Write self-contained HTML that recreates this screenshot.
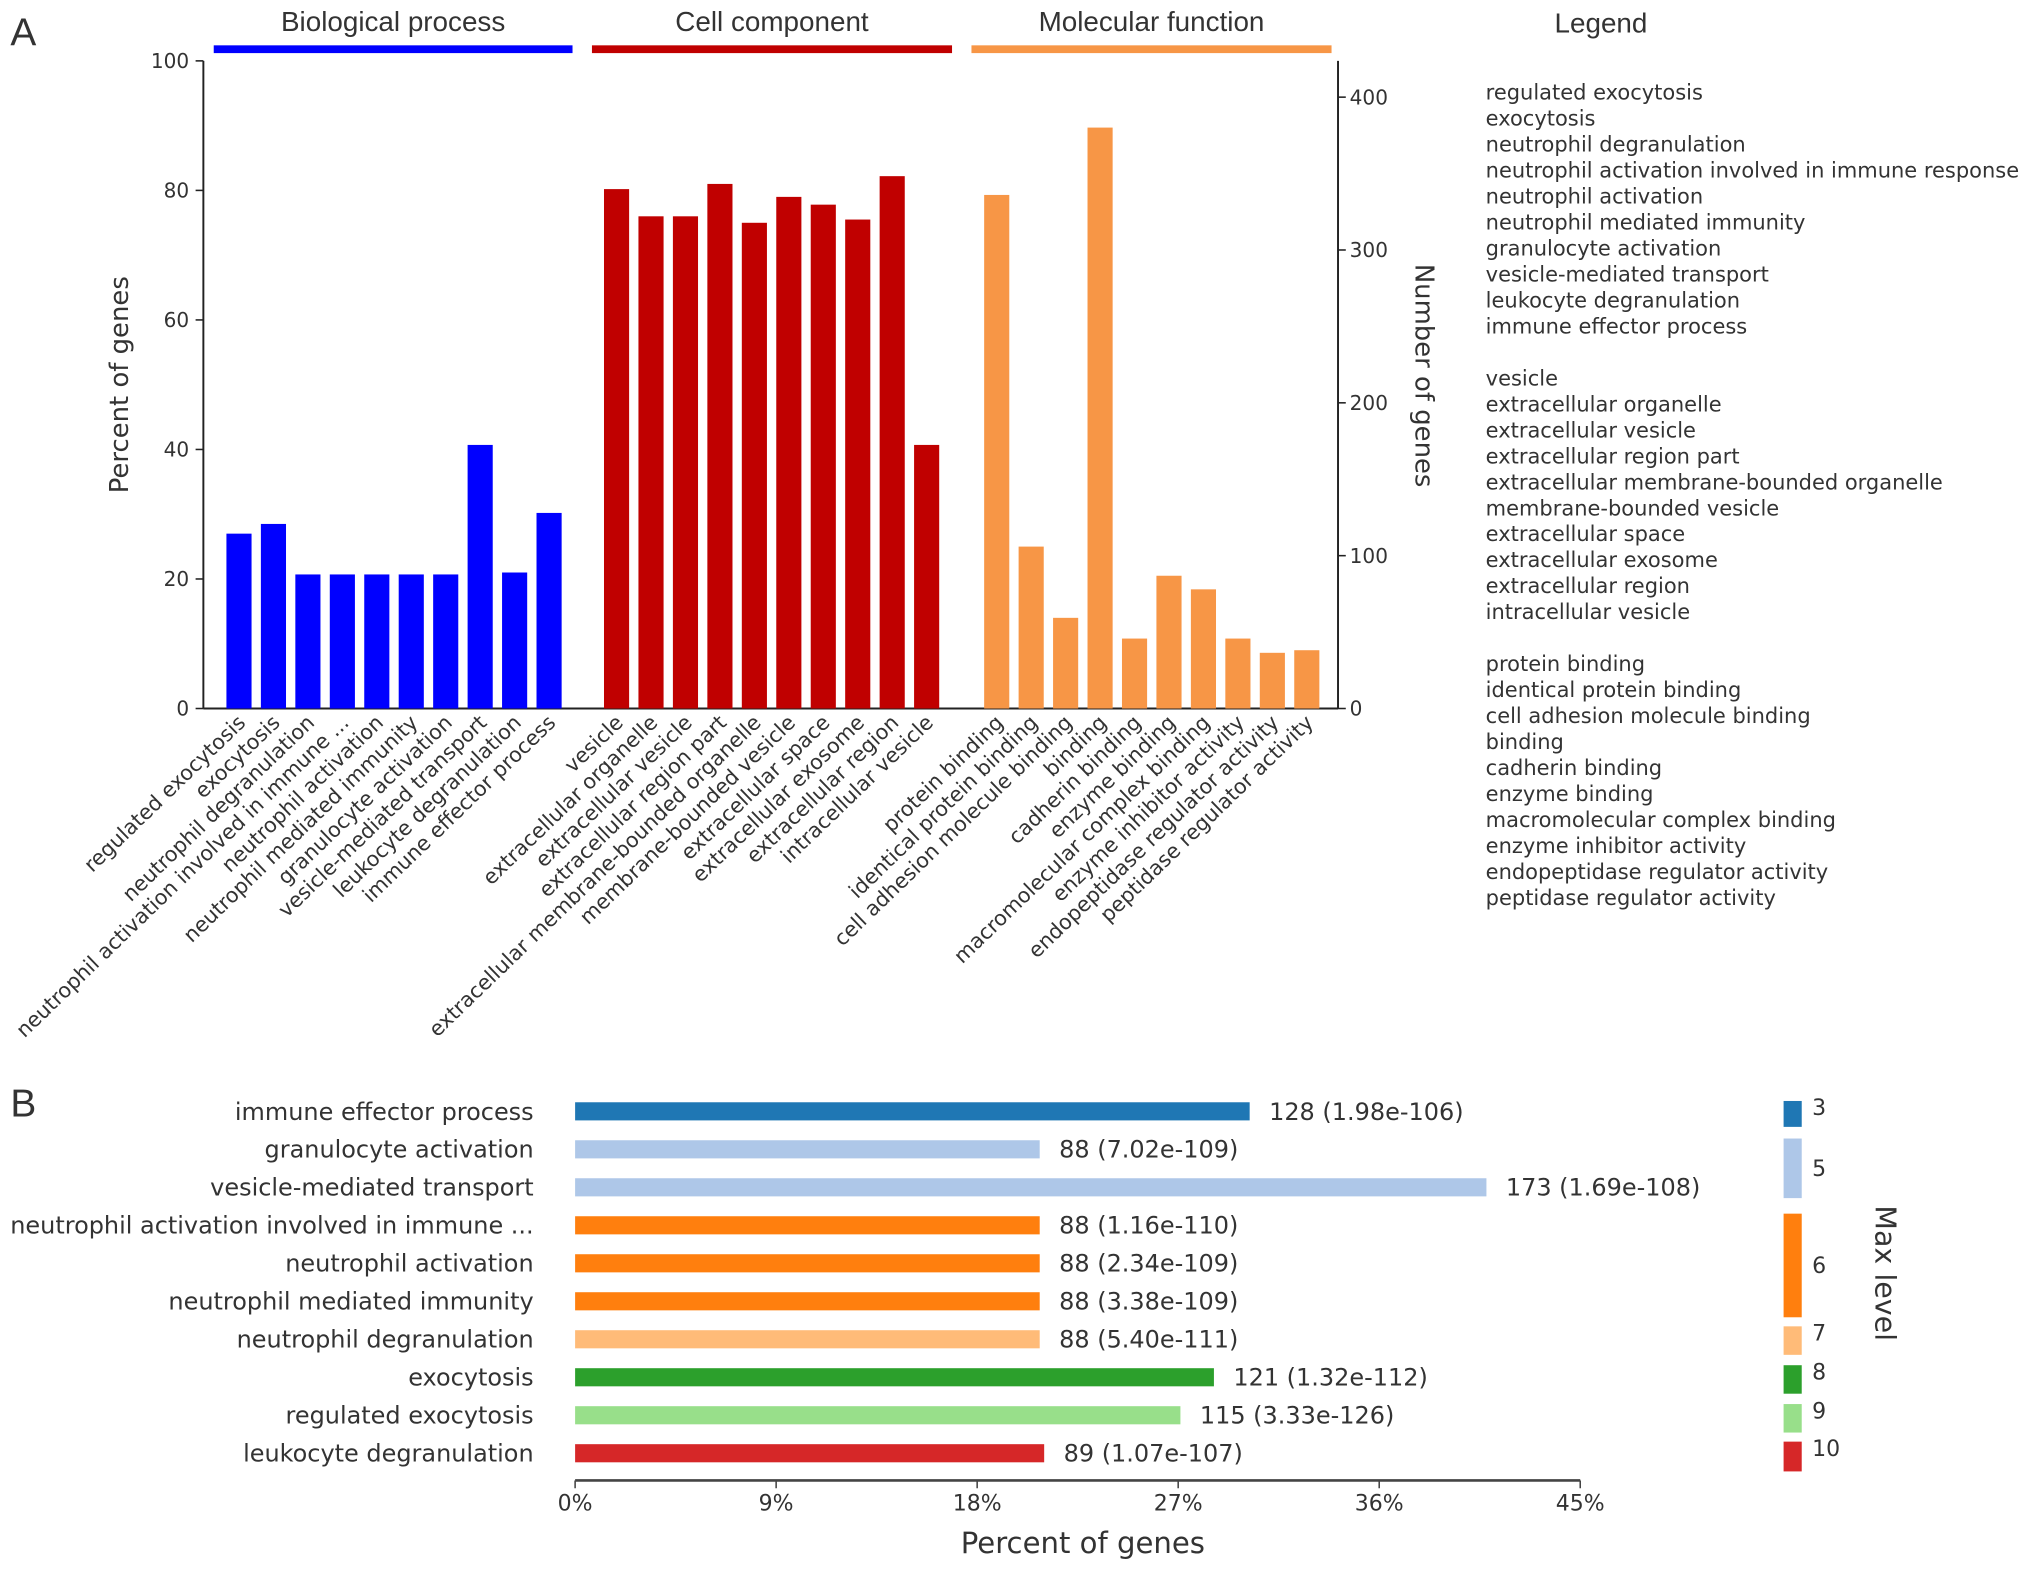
<!DOCTYPE html>
<html><head><meta charset="utf-8">
<style>
html,body{margin:0;padding:0;background:#fff;}
svg{display:block;}
text{font-family:"DejaVu Sans","Liberation Sans",sans-serif;fill:#333;}
.h{font-family:"Liberation Sans",sans-serif;}
</style></head>
<body>
<svg id="fig" width="2031" height="1574" viewBox="0 0 1568 1215.2" xmlns="http://www.w3.org/2000/svg">
<g id="pa"></g>
<g id="pb"></g>
</svg>
<script>
// ---- Panel A data ----
const bpCats = ["regulated exocytosis","exocytosis","neutrophil degranulation","neutrophil activation involved in immune ...","neutrophil activation","neutrophil mediated immunity","granulocyte activation","vesicle-mediated transport","leukocyte degranulation","immune effector process"];
const bpVals = [27,28.5,20.7,20.7,20.7,20.7,20.7,40.7,21,30.2];
const ccCats = ["vesicle","extracellular organelle","extracellular vesicle","extracellular region part","extracellular membrane-bounded organelle","membrane-bounded vesicle","extracellular space","extracellular exosome","extracellular region","intracellular vesicle"];
const ccVals = [80.2,76,76,81,75,79,77.8,75.5,82.2,40.7];
const mfCats = ["protein binding","identical protein binding","cell adhesion molecule binding","binding","cadherin binding","enzyme binding","macromolecular complex binding","enzyme inhibitor activity","endopeptidase regulator activity","peptidase regulator activity"];
const mfVals = [79.3,25,14,89.7,10.8,20.5,18.4,10.8,8.6,9];
const leftTicks = [0,20,40,60,80,100];
const rightTicks = [0,100,200,300,400];
const legendItems = ["regulated exocytosis","exocytosis","neutrophil degranulation","neutrophil activation involved in immune response","neutrophil activation","neutrophil mediated immunity","granulocyte activation","vesicle-mediated transport","leukocyte degranulation","immune effector process","","vesicle","extracellular organelle","extracellular vesicle","extracellular region part","extracellular membrane-bounded organelle","membrane-bounded vesicle","extracellular space","extracellular exosome","extracellular region","intracellular vesicle","","protein binding","identical protein binding","cell adhesion molecule binding","binding","cadherin binding","enzyme binding","macromolecular complex binding","enzyme inhibitor activity","endopeptidase regulator activity","peptidase regulator activity"];
// ---- Panel B data ----
const bCats = ["immune effector process","granulocyte activation","vesicle-mediated transport","neutrophil activation involved in immune ...","neutrophil activation","neutrophil mediated immunity","neutrophil degranulation","exocytosis","regulated exocytosis","leukocyte degranulation"];
const bVals = [30.2,20.8,40.8,20.8,20.8,20.8,20.8,28.6,27.1,21.0];
const bLabels = ["128 (1.98e-106)","88 (7.02e-109)","173 (1.69e-108)","88 (1.16e-110)","88 (2.34e-109)","88 (3.38e-109)","88 (5.40e-111)","121 (1.32e-112)","115 (3.33e-126)","89 (1.07e-107)"];
const bLevels = [3,5,5,6,6,6,7,8,9,10];
const bTicks = [0,9,18,27,36,45];
const levelNames = ["3","5","6","7","8","9","10"];

const NS="http://www.w3.org/2000/svg";
function mk(tag,attrs,parent,txt){const e=document.createElementNS(NS,tag);for(const k in attrs)e.setAttribute(k,attrs[k]);if(txt!==undefined)e.textContent=txt;parent.appendChild(e);return e;}

const pa=document.getElementById('pa');
const y0=547, yTop=47;
const yL=v=>y0-(v/100)*(y0-yTop);
const yR=v=>y0-(v/400)*(y0-75);
let t=mk('text',{x:8,y:35,'font-size':30,class:'h'},pa,'A');

let l=mk('line',{x1:157,y1:yTop,x2:157,y2:y0,stroke:'#222','stroke-width':1.5},pa);

l=mk('line',{x1:157,y1:y0,x2:1033,y2:y0,stroke:'#222','stroke-width':1.5},pa);

l=mk('line',{x1:1033,y1:y0,x2:1033,y2:yTop,stroke:'#222','stroke-width':1.5},pa);

leftTicks.forEach(v=>{
  const tk=mk('line',{x1:151,x2:157,y1:yL(v),y2:yL(v),stroke:'#222','stroke-width':1.2},pa);
  
  const tx=mk('text',{x:146,y:yL(v)+5.5,'font-size':15.5,'text-anchor':'end'},pa,String(v));
  
});
rightTicks.forEach(v=>{
  const tk=mk('line',{x1:1033,x2:1039,y1:yR(v),y2:yR(v),stroke:'#222','stroke-width':1.2},pa);
  
  const tx=mk('text',{x:1042,y:yR(v)+5.5,'font-size':15.5},pa,String(v));
  
});
t=mk('text',{x:0,y:0,'font-size':20,'text-anchor':'middle',transform:'translate(99,297) rotate(-90)'},pa,'Percent of genes');

t=mk('text',{x:0,y:0,'font-size':20,'text-anchor':'middle',transform:'translate(1093,290) rotate(90)'},pa,'Number of genes');

const groups=[
 {cats:bpCats,vals:bpVals,c0:184.5,col:'#0000ff',title:'Biological process',hx1:165,hx2:442,name:'bp'},
 {cats:ccCats,vals:ccVals,c0:476,col:'#c00000',title:'Cell component',hx1:457,hx2:735,name:'cc'},
 {cats:mfCats,vals:mfVals,c0:769.5,col:'#f79646',title:'Molecular function',hx1:750,hx2:1028,name:'mf'}
];
groups.forEach(g=>{
  const hb=mk('rect',{x:g.hx1,y:35,width:g.hx2-g.hx1,height:6,fill:g.col},pa);
  
  const ht=mk('text',{x:(g.hx1+g.hx2)/2,y:24,'font-size':21.5,'text-anchor':'middle',class:'h'},pa,g.title);
  
  g.vals.forEach((v,i)=>{
    const cx=g.c0+i*26.6;
    const r=mk('rect',{x:cx-9.7,y:yL(v),width:19.4,height:y0-yL(v),fill:g.col},pa);
    
    const lt=mk('text',{x:0,y:0,'font-size':16,'text-anchor':'end',transform:`translate(${cx+6},${y0+12}) rotate(-44)`},pa,g.cats[i]);
    
  });
});
t=mk('text',{x:1236,y:25,'font-size':21.5,'text-anchor':'middle',class:'h'},pa,'Legend');

legendItems.forEach((s,i)=>{
  if(!s)return;
  const e=mk('text',{x:1147,y:77+i*20.05,'font-size':16.2},pa,s);
  
});

// ---- Panel B ----
const pb=document.getElementById('pb');
const xB=v=>444+(v/45)*(1220-444);
const levelColors={3:'#1f77b4',5:'#aec7e8',6:'#ff7f0e',7:'#ffbb78',8:'#2ca02c',9:'#98df8a',10:'#d62728'};
t=mk('text',{x:8,y:862,'font-size':30,class:'h'},pb,'B');

bCats.forEach((c,i)=>{
  const cy=858+i*29.33;
  const r=mk('rect',{x:xB(0),y:cy-7,width:xB(bVals[i])-xB(0),height:14,fill:levelColors[bLevels[i]]},pb);
  
  const lb=mk('text',{x:412,y:cy+6.5,'font-size':18.5,'text-anchor':'end'},pb,c);
  
  const vl=mk('text',{x:xB(bVals[i])+15,y:cy+6.5,'font-size':18.5},pb,bLabels[i]);
  
});
l=mk('line',{x1:xB(0),x2:xB(45),y1:1143,y2:1143,stroke:'#444','stroke-width':2},pb);

bTicks.forEach(v=>{
  const tk=mk('line',{x1:xB(v),x2:xB(v),y1:1143,y2:1149,stroke:'#444','stroke-width':1.2},pb);
  
  const tx=mk('text',{x:xB(v),y:1166,'font-size':17,'text-anchor':'middle'},pb,v+'%');
  
});
t=mk('text',{x:836,y:1199,'font-size':22.5,'text-anchor':'middle'},pb,'Percent of genes');

const segY=[[850,870],[879,925],[937,1017],[1024,1046],[1054,1076],[1084,1106],[1113,1136]];
levelNames.forEach((n,i)=>{
  const s=segY[i];
  const r=mk('rect',{x:1377,y:s[0],width:14,height:s[1]-s[0],fill:levelColors[+n]},pb);
  
  const ly = (n==='5'||n==='6') ? (s[0]+s[1])/2+6 : s[0]+11;
  const tx=mk('text',{x:1399,y:ly,'font-size':17},pb,n);
  
});
t=mk('text',{x:0,y:0,'font-size':22,'text-anchor':'middle',transform:'translate(1448,983) rotate(90)'},pb,'Max level');

</script>
</body></html>
